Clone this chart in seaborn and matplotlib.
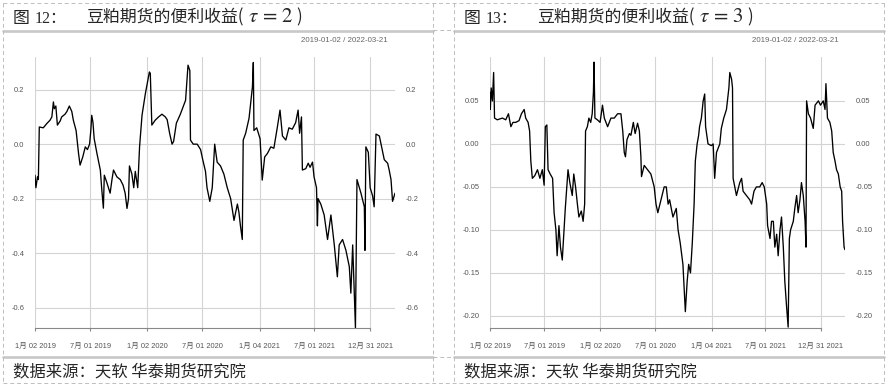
import pandas as pd
import numpy as np
import matplotlib
matplotlib.use('Agg')
import matplotlib.pyplot as plt
import matplotlib.dates as mdates
from matplotlib.lines import Line2D
import seaborn as sns

# tau = 2 series
tau2_dates = [
    '2019-01-02', '2019-01-05', '2019-01-10', '2019-01-13', '2019-01-16', '2019-01-29', '2019-02-09', '2019-02-20', '2019-02-26', '2019-03-03',
    '2019-03-06', '2019-03-11', '2019-03-16', '2019-03-25', '2019-03-30', '2019-04-10', '2019-04-16', '2019-04-24', '2019-05-02', '2019-05-07',
    '2019-05-16', '2019-05-24', '2019-05-29', '2019-06-07', '2019-06-15', '2019-06-22', '2019-06-29', '2019-07-03', '2019-07-06', '2019-07-10',
    '2019-07-14', '2019-07-23', '2019-08-03', '2019-08-08', '2019-08-13', '2019-08-16', '2019-08-24', '2019-09-04', '2019-09-10', '2019-09-15',
    '2019-09-26', '2019-10-07', '2019-10-16', '2019-10-23', '2019-10-29', '2019-11-03', '2019-11-06', '2019-11-14', '2019-11-20', '2019-11-25',
    '2019-12-03', '2019-12-09', '2019-12-17', '2019-12-28', '2020-01-10', '2020-01-13', '2020-01-18', '2020-01-29', '2020-02-09', '2020-02-20',
    '2020-03-02', '2020-03-08', '2020-03-16', '2020-03-24', '2020-03-29', '2020-04-07', '2020-04-20', '2020-05-07', '2020-05-12', '2020-05-15',
    '2020-05-21', '2020-05-23', '2020-06-01', '2020-06-14', '2020-06-25', '2020-07-02', '2020-07-11', '2020-07-16', '2020-07-25', '2020-08-02',
    '2020-08-10', '2020-08-18', '2020-08-29', '2020-09-09', '2020-09-20', '2020-10-01', '2020-10-12', '2020-10-23', '2020-10-28', '2020-11-02',
    '2020-11-08', '2020-11-11', '2020-11-19', '2020-11-30', '2020-12-11', '2020-12-14', '2020-12-16', '2020-12-25', '2021-01-05', '2021-01-12',
    '2021-01-20', '2021-01-29', '2021-02-09', '2021-02-19', '2021-03-02', '2021-03-11', '2021-03-19', '2021-03-30', '2021-04-09', '2021-04-20',
    '2021-05-01', '2021-05-09', '2021-05-14', '2021-05-20', '2021-05-23', '2021-06-03', '2021-06-11', '2021-06-17', '2021-06-25', '2021-06-30',
    '2021-07-08', '2021-07-11', '2021-07-13', '2021-07-22', '2021-08-02', '2021-08-13', '2021-08-24', '2021-09-04', '2021-09-14', '2021-09-20',
    '2021-10-01', '2021-10-12', '2021-10-23', '2021-10-28', '2021-11-03', '2021-11-10', '2021-11-12', '2021-11-17', '2021-11-30', '2021-12-11',
    '2021-12-13', '2021-12-16', '2021-12-24', '2021-12-30', '2022-01-07', '2022-01-12', '2022-01-18', '2022-01-29', '2022-02-09', '2022-02-14',
    '2022-02-25', '2022-03-02', '2022-03-08', '2022-03-13', '2022-03-21',
]
tau2_values = [
    -0.114, -0.16, -0.12, -0.13, 0.063, 0.06, 0.075, 0.088, 0.10, 0.155,
    0.13, 0.14, 0.07, 0.085, 0.10, 0.11, 0.12, 0.14, 0.12, 0.088,
    0.05, -0.034, -0.077, -0.046, -0.01, -0.02, 0.0, 0.05, 0.106, 0.08,
    0.02, -0.034, -0.095, -0.17, -0.235, -0.114, -0.14, -0.18, -0.13, -0.095,
    -0.12, -0.13, -0.15, -0.18, -0.236, -0.20, -0.08, -0.11, -0.16, -0.10,
    -0.16, -0.01, 0.106, 0.186, 0.265, 0.26, 0.07, 0.088, 0.10, 0.11,
    0.10, 0.09, 0.04, 0.0, 0.01, 0.077, 0.11, 0.161, 0.24, 0.29,
    0.27, 0.015, 0.0, 0.0, -0.02, -0.057, -0.10, -0.16, -0.21, -0.16,
    0.0, -0.066, -0.08, -0.11, -0.16, -0.20, -0.28, -0.22, -0.25, -0.30,
    -0.35, 0.015, 0.04, 0.095, 0.21, 0.30, 0.05, 0.06, 0.02, -0.132,
    -0.047, -0.034, -0.01, -0.015, 0.06, 0.125, 0.03, 0.015, 0.06, 0.055,
    0.079, 0.125, 0.04, 0.10, -0.095, -0.09, -0.07, -0.085, -0.066, -0.12,
    -0.16, -0.30, -0.20, -0.22, -0.26, -0.35, -0.26, -0.37, -0.487, -0.37,
    -0.35, -0.39, -0.45, -0.547, -0.37, -0.61, -0.675, -0.13, -0.18, -0.23,
    -0.39, -0.01, -0.03, -0.16, -0.19, -0.23, 0.037, 0.03, -0.03, -0.057,
    -0.07, -0.095, -0.13, -0.21, -0.18,
]

# tau = 3 series
tau3_dates = [
    '2019-01-02', '2019-01-03', '2019-01-06', '2019-01-10', '2019-01-14', '2019-01-17', '2019-01-26', '2019-02-12', '2019-02-23', '2019-03-04',
    '2019-03-12', '2019-03-19', '2019-03-28', '2019-04-08', '2019-04-16', '2019-04-25', '2019-04-30', '2019-05-08', '2019-05-13', '2019-05-17',
    '2019-05-22', '2019-05-30', '2019-06-08', '2019-06-16', '2019-06-24', '2019-06-30', '2019-07-04', '2019-07-09', '2019-07-13', '2019-07-20',
    '2019-07-28', '2019-08-02', '2019-08-08', '2019-08-12', '2019-08-18', '2019-08-23', '2019-08-29', '2019-09-03', '2019-09-08', '2019-09-17',
    '2019-09-23', '2019-10-01', '2019-10-06', '2019-10-12', '2019-10-18', '2019-10-23', '2019-10-31', '2019-11-06', '2019-11-11', '2019-11-14',
    '2019-11-20', '2019-11-25', '2019-12-01', '2019-12-06', '2019-12-10', '2019-12-12', '2019-12-15', '2019-12-23', '2020-01-01', '2020-01-09',
    '2020-01-15', '2020-01-26', '2020-02-06', '2020-02-17', '2020-02-28', '2020-03-10', '2020-03-16', '2020-03-21', '2020-03-25', '2020-03-30',
    '2020-04-07', '2020-04-12', '2020-04-20', '2020-04-26', '2020-05-04', '2020-05-10', '2020-05-15', '2020-05-17', '2020-05-26', '2020-06-06',
    '2020-06-17', '2020-06-28', '2020-07-04', '2020-07-10', '2020-07-31', '2020-08-07', '2020-08-13', '2020-08-18', '2020-08-29', '2020-09-09',
    '2020-09-15', '2020-09-22', '2020-10-01', '2020-10-09', '2020-10-15', '2020-10-20', '2020-10-26', '2020-11-01', '2020-11-07', '2020-11-11',
    '2020-11-17', '2020-11-22', '2020-11-25', '2020-12-01', '2020-12-07', '2020-12-12', '2020-12-15', '2020-12-23', '2021-01-03', '2021-01-09',
    '2021-01-14', '2021-01-20', '2021-01-31', '2021-02-05', '2021-02-13', '2021-02-22', '2021-03-02', '2021-03-05', '2021-03-11', '2021-03-14',
    '2021-03-16', '2021-03-27', '2021-04-07', '2021-04-13', '2021-04-18', '2021-04-29', '2021-05-10', '2021-05-16', '2021-05-24', '2021-06-01',
    '2021-06-12', '2021-06-20', '2021-06-27', '2021-07-05', '2021-07-08', '2021-07-16', '2021-07-21', '2021-07-27', '2021-08-01', '2021-08-07',
    '2021-08-12', '2021-08-18', '2021-08-23', '2021-08-29', '2021-09-03', '2021-09-09', '2021-09-14', '2021-09-18', '2021-09-22', '2021-10-01',
    '2021-10-06', '2021-10-12', '2021-10-17', '2021-10-23', '2021-10-28', '2021-11-03', '2021-11-09', '2021-11-12', '2021-11-14', '2021-11-20',
    '2021-11-27', '2021-12-06', '2021-12-12', '2021-12-23', '2021-12-30', '2022-01-08', '2022-01-14', '2022-01-17', '2022-01-22', '2022-01-30',
    '2022-02-05', '2022-02-10', '2022-02-16', '2022-02-21', '2022-02-27', '2022-03-05', '2022-03-10', '2022-03-13', '2022-03-18', '2022-03-21',
]
tau3_values = [
    0.06, 0.04, 0.065, 0.05, 0.083, 0.03, 0.028, 0.03, 0.028, 0.035,
    0.02, 0.025, 0.025, 0.027, 0.035, 0.04, 0.03, 0.025, 0.015, -0.02,
    -0.04, -0.037, -0.03, -0.04, -0.03, -0.048, 0.02, 0.022, -0.03, -0.035,
    -0.04, -0.08, -0.10, -0.13, -0.095, -0.12, -0.135, -0.105, -0.075, -0.03,
    -0.045, -0.06, -0.035, -0.05, -0.07, -0.085, -0.078, -0.09, -0.07, 0.015,
    0.02, 0.03, 0.025, 0.035, 0.06, 0.095, 0.03, 0.028, 0.025, 0.045,
    0.03, 0.02, 0.03, 0.03, 0.035, 0.035, 0.015, -0.01, -0.015, 0.005,
    0.012, 0.01, 0.025, 0.012, 0.024, 0.015, -0.015, -0.038, -0.025, -0.03,
    -0.035, -0.05, -0.07, -0.08, -0.05, -0.05, -0.07, -0.065, -0.085, -0.075,
    -0.10, -0.115, -0.14, -0.195, -0.16, -0.14, -0.15, -0.115, -0.07, -0.02,
    0.0, 0.01, 0.02, 0.03, 0.05, 0.058, 0.02, 0.0, -0.002, 0.0,
    -0.04, -0.01, 0.0, 0.018, 0.03, 0.04, 0.065, 0.083, 0.075, 0.065,
    -0.04, -0.06, -0.045, -0.04, -0.055, -0.06, -0.065, -0.07, -0.055, -0.05,
    -0.05, -0.045, -0.05, -0.07, -0.095, -0.11, -0.09, -0.09, -0.12, -0.105,
    -0.13, -0.10, -0.085, -0.12, -0.16, -0.19, -0.213, -0.11, -0.10, -0.09,
    -0.075, -0.06, -0.08, -0.065, -0.045, -0.06, -0.09, -0.12, 0.05, 0.035,
    0.03, 0.018, 0.045, 0.05, 0.045, 0.05, 0.04, 0.07, 0.03, 0.025,
    0.015, -0.01, -0.02, -0.03, -0.035, -0.05, -0.055, -0.09, -0.12, -0.123,
]

tick_dates = ['2019-01-02', '2019-07-01', '2020-01-02', '2020-07-01', '2021-01-04', '2021-07-01', '2021-12-31']
tick_labels = ['1月 02 2019', '7月 01 2019', '1月 02 2020', '7月 01 2020', '1月 04 2021', '7月 01 2021', '12月 31 2021']
tau2_yticks = [-0.6, -0.4, -0.2, 0.0, 0.2]
tau3_yticks = [-0.20, -0.15, -0.10, -0.05, 0.00, 0.05]
date_range = '2019-01-02 / 2022-03-21'
source_text = '数据来源：天软 华泰期货研究院'

sns.set_theme(style='white')
plt.rcParams['font.family'] = ['Liberation Sans', 'Noto Sans CJK SC']
CJK = ['Noto Sans CJK SC', 'DejaVu Sans']
SERIF_CJK = ['Liberation Serif', 'Noto Sans CJK SC']

W, H = 887, 386
fig = plt.figure(figsize=(W / 100, H / 100), dpi=100)
fig.patch.set_facecolor('white')


def fx(px):
    return px / W


def fy(py):
    return 1 - py / H


def fig_line(x0, y0, x1, y1, **kw):
    fig.add_artist(Line2D([fx(x0), fx(x1)], [fy(y0), fy(y1)], transform=fig.transFigure, **kw))


def draw_panel(dx, left, right, dates, values, yticks, ylim, yfmt, fig_no, tau):
    ax = fig.add_axes([fx(left), fy(328), (right - left) / W, (328 - 57) / H])
    df = pd.DataFrame({'date': pd.to_datetime(dates), 'value': values})
    sns.lineplot(data=df, x='date', y='value', ax=ax, color='black', linewidth=0.95)
    ax.set_xlim(pd.Timestamp('2019-01-02'), pd.Timestamp('2022-03-21'))
    ax.set_ylim(*ylim)
    ticks = pd.to_datetime(tick_dates)
    ax.set_xticks(ticks)
    ax.set_xticklabels(tick_labels)
    ax.set_yticks(yticks)
    ax.set_yticklabels([yfmt.format(v) for v in yticks])
    ax.set_xlabel('')
    ax.set_ylabel('')
    for s in ['top', 'left', 'right']:
        ax.spines[s].set_visible(False)
    ax.spines['bottom'].set_color('#888888')
    ax.spines['bottom'].set_linewidth(0.8)
    ax.spines['bottom'].set_bounds(mdates.date2num(ticks[0]), mdates.date2num(ticks[-1]))
    ax.grid(True, color='#d4d4d4', linewidth=0.8)
    ax.tick_params(axis='x', bottom=True, direction='out', length=2.5, width=0.8, color='#888888',
                   labelsize=5.4, labelcolor='#555555', pad=8.5)
    ax.tick_params(axis='y', left=False, right=False, length=0, labelleft=True, labelright=True,
                   labelsize=5.4, labelcolor='#555555', pad=7.5)

    # heading row
    base = 22.5
    fig.text(fx(13 + dx), fy(base), '图', family=CJK, fontsize=12.2, va='baseline')
    fig.text(fx(35 + dx), fy(base), fig_no + '：', family=SERIF_CJK, fontsize=11.5, va='baseline')
    fig.text(fx(86 + dx), fy(base), '豆粕期货的便利收益(', family=CJK, fontsize=12.2, va='baseline')
    fig.text(fx(248 + dx), fy(base), r'$\tau\,=\,' + tau + '$', math_fontfamily='stix', fontsize=15, va='baseline')
    fig.text(fx(296 + dx), fy(base), ')', family=CJK, fontsize=12.2, va='baseline')

    fig.text(fx(388 + dx), fy(40), date_range, fontsize=5.7, color='#666666', ha='right', va='center')
    fig.text(fx(13 + dx), fy(376.5), source_text, family=CJK, fontsize=11.8, va='baseline')

    # grey rules above and below the chart image
    fig_line(3 + dx, 31, 433 + dx, 31, color='#c8c8c8', linewidth=1.9)
    fig_line(3 + dx, 356.5, 433 + dx, 356.5, color='#c8c8c8', linewidth=1.9)


draw_panel(0, 35, 395, tau2_dates, tau2_values, tau2_yticks, (-0.675, 0.32), '{:.1f}', '12', '2')
draw_panel(451, 490, 845, tau3_dates, tau3_values, tau3_yticks, (-0.214, 0.101), '{:.2f}', '13', '3')

# dashed table borders
dash = dict(color='#bdbdbd', linewidth=0.7, linestyle=(0, (4, 3)))
for x in [3, 433, 454, 884]:
    fig_line(x, 3, x, 383, **dash)
fig_line(3, 3, 884, 3, **dash)
fig_line(3, 383, 884, 383, **dash)
fig_line(433, 30, 454, 30, **dash)
fig_line(433, 357, 454, 357, **dash)

fig.savefig('out.png', dpi=100)
